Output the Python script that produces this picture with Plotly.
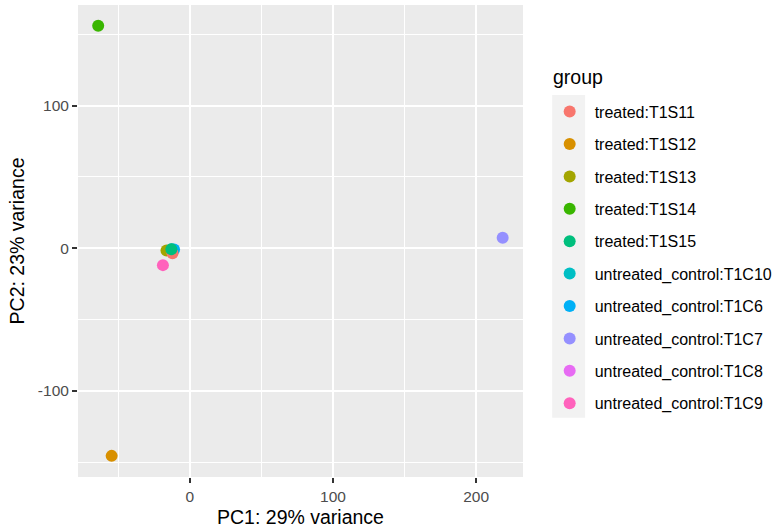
import plotly.graph_objects as go

# PCA scores per sample group
groups = [
    "treated:T1S11", "treated:T1S12", "treated:T1S13", "treated:T1S14",
    "treated:T1S15", "untreated_control:T1C10", "untreated_control:T1C6",
    "untreated_control:T1C7", "untreated_control:T1C8", "untreated_control:T1C9",
]
pc1 = [-12.1, -54.6, -16.3, -64.0, -12.9, -12.7, -11.0, 218.5, -13.1, -18.8]
pc2 = [-3.4, -145.4, -1.5, 155.8, -0.7, -0.6, -0.8, 7.3, -1.0, -11.8]

# ggplot2 default hue palette for 10 levels
colors = ["#F8766D", "#D89000", "#A3A500", "#39B600", "#00BF7D",
          "#00BFC4", "#00B0F6", "#9590FF", "#E76BF3", "#FF62BC"]
# stacking of overlapping points in the central cluster
layer = [3, 0, 2, 0, 4, 0, 1, 0, 0, 0]

x_ticks = [0, 100, 200]
y_ticks = [-100, 0, 100]

FONT = "Liberation Sans, Arial, sans-serif"
W, H = 774, 531
L, R, T, B = 78, 250.5, 5, 54
pw, ph = W - L - R, H - T - B


def px_x(p):
    return (p - L) / pw


def px_y(p):
    return (H - B - p) / ph


fig = go.Figure()
for g, x, y, c, z in zip(groups, pc1, pc2, colors, layer):
    fig.add_trace(go.Scatter(
        x=[x], y=[y], mode="markers", name=g, legendgroup=g, zorder=z,
        marker=dict(color=c, size=12, line=dict(width=0)),
    ))

# grey key column behind legend symbols
fig.add_shape(type="rect", xref="paper", yref="paper",
              x0=px_x(552.7), x1=px_x(585.7), y0=px_y(417.7), y1=px_y(95),
              fillcolor="#F2F2F2", line=dict(width=0), layer="below")

# legend heading
fig.add_annotation(text="group", xref="paper", yref="paper",
                   x=px_x(552), y=px_y(77), xanchor="left", yanchor="middle",
                   showarrow=False, font=dict(family=FONT, size=19.5, color="black"))

axis_common = dict(
    showgrid=True, gridcolor="white", gridwidth=1.9, zeroline=False,
    ticks="outside", ticklen=5, tickwidth=1.9, tickcolor="#333333",
    tickfont=dict(family=FONT, size=15.5, color="#4D4D4D"),
    showline=False, automargin=False,
)

fig.update_layout(
    width=W, height=H,
    margin=dict(l=L, r=R, t=T, b=B, pad=0, autoexpand=False),
    paper_bgcolor="white", plot_bgcolor="#EBEBEB",
    font=dict(family=FONT, color="black"),
    xaxis=dict(
        range=[-78.1, 232.7], tickvals=x_ticks, ticktext=[str(v) for v in x_ticks],
        minor=dict(dtick=50, tick0=0, showgrid=True, gridcolor="white", gridwidth=0.95, ticks=""),
        title=dict(text="PC1: 29% variance", font=dict(family=FONT, size=19.5, color="black"), standoff=6),
        **axis_common,
    ),
    yaxis=dict(
        range=[-160.2, 170.4], tickvals=y_ticks, ticktext=[str(v) for v in y_ticks],
        minor=dict(dtick=50, tick0=0, showgrid=True, gridcolor="white", gridwidth=0.95, ticks=""),
        title=dict(text="PC2: 23% variance", font=dict(family=FONT, size=19.5, color="black"), standoff=8),
        **axis_common,
    ),
    legend=dict(
        x=px_x(545.2), y=px_y(94.7), xanchor="left", yanchor="top",
        font=dict(family=FONT, size=16, color="black"),
        traceorder="grouped", tracegroupgap=8.6, itemwidth=40,
        bgcolor="rgba(0,0,0,0)", borderwidth=0,
    ),
    showlegend=True,
)

fig.write_html("out.html")
